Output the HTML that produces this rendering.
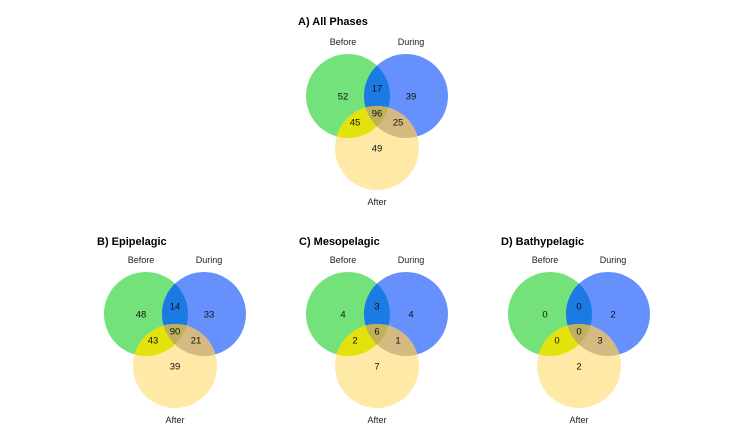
<!DOCTYPE html>
<html><head><meta charset="utf-8"><style>
html,body{margin:0;padding:0;background:#fff}
svg{display:block}
text{font-family:"Liberation Sans",sans-serif}
</style></head><body>
<svg id="chart" width="754" height="431" viewBox="0 0 754 431"></svg>
<script>
// Region counts per panel: [beforeOnly, B∩D only, duringOnly, all three, B∩A only, D∩A only, afterOnly]
const panelTitles = ["A) All Phases", "B) Epipelagic", "C) Mesopelagic", "D) Bathypelagic"];
const panelAll = [52, 17, 39, 96, 45, 25, 49];
const panelEpi = [48, 14, 33, 90, 43, 21, 39];
const panelMeso = [4, 3, 4, 6, 2, 1, 7];
const panelBathy = [0, 0, 2, 0, 0, 3, 2];
const setLabels = ["Before", "During", "After"];
const regionNames = ["before-only","before-during","during-only","all-three","before-after","during-after","after-only"];

const NS = "http://www.w3.org/2000/svg";
const svg = document.getElementById("chart");
const panels = [
  {cx:377, cy:96, tx:298, ty:25, data:panelAll},
  {cx:175, cy:314, tx:97, ty:245, data:panelEpi},
  {cx:377, cy:314, tx:299, ty:245, data:panelMeso},
  {cx:579, cy:314, tx:501, ty:245, data:panelBathy}
];
const R = 42, DX = 29, DY = 52;
// region label offsets relative to panel center
const off = [[-34,0],[0,-8],[34,0],[0,17],[-22,26],[21,26],[0,52]];
function el(tag, attrs, parent){
  const e = document.createElementNS(NS, tag);
  for (const k in attrs) e.setAttribute(k, attrs[k]);
  (parent||svg).appendChild(e); return e;
}
const defs = el("defs", {});
panels.forEach((p, i) => {
  const g = el("g", {});
  
  
  const c = [[p.cx-DX, p.cy],[p.cx+DX, p.cy],[p.cx, p.cy+DY]];
  ["B","D","A"].forEach((n, k) => {
    const cp = el("clipPath", {id:"c"+n+i}, defs);
    el("circle", {cx:c[k][0], cy:c[k][1], r:R}, cp);
  });
  const circ = (k, fill, clip) => {
    const a = {cx:c[k][0], cy:c[k][1], r:R, fill:fill};
    if (clip) a["clip-path"] = clip;
    return el("circle", a, g);
  };
  const cb = circ(0, "#73e27a");  
  const cd = circ(1, "#6690fb");  
  const ca = circ(2, "#fee9a6");  
  circ(1, "#1c7ae3", "url(#cB"+i+")");
  circ(2, "#e3e20c", "url(#cB"+i+")");
  circ(2, "#d4ba80", "url(#cD"+i+")");
  const gi = el("g", {"clip-path":"url(#cB"+i+")"}, g);
  el("circle", {cx:c[1][0], cy:c[1][1], r:R, fill:"#bdb05e", "clip-path":"url(#cA"+i+")"}, gi);
  const t = el("text", {x:p.tx, y:p.ty, "font-size":11, "font-weight":"bold", fill:"#000"}, g);
  t.textContent = panelTitles[i];
  
  
  const lp = [[p.cx-34, p.cy-51],[p.cx+34, p.cy-51],[p.cx, p.cy+109]];
  setLabels.forEach((s, k) => {
    const l = el("text", {x:lp[k][0], y:lp[k][1], "font-size":9, "text-anchor":"middle", fill:"#222"}, g);
    l.textContent = s;
    
    
  });
  p.data.forEach((v, k) => {
    const n = el("text", {x:p.cx+off[k][0], y:p.cy+off[k][1]+3.5, "font-size":9.5, "text-anchor":"middle", fill:"#111"}, g);
    n.textContent = v;
    
    
  });
});
</script>
</body></html>
